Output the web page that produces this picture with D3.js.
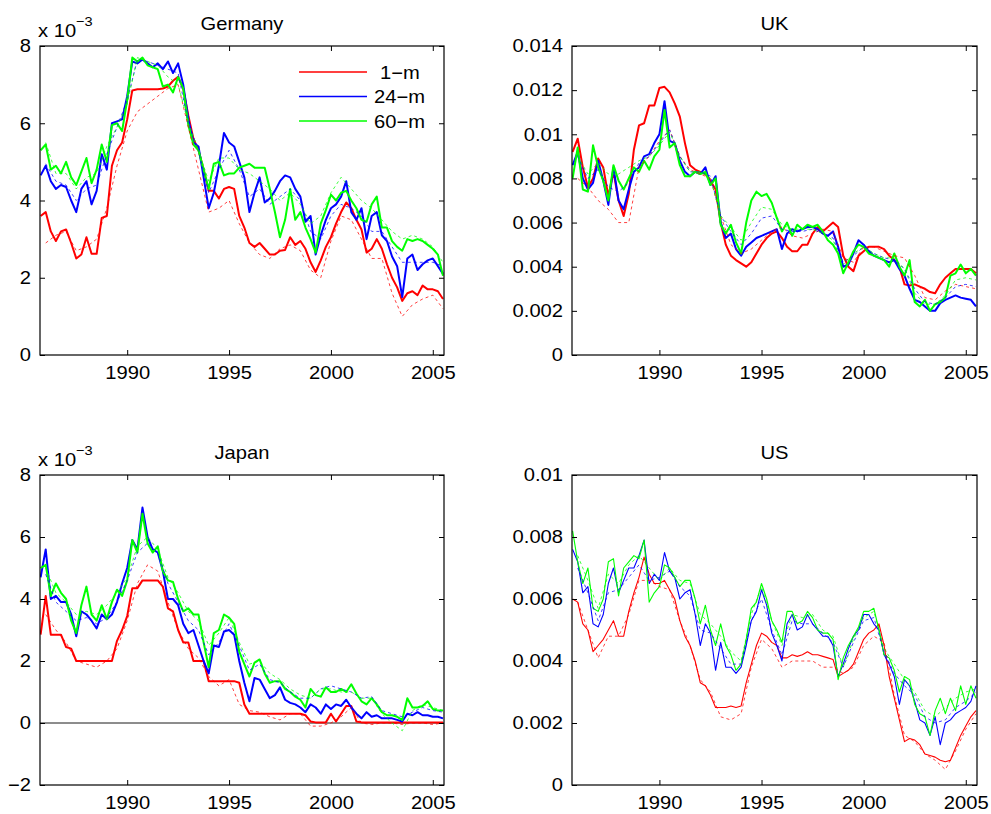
<!DOCTYPE html>
<html>
<head>
<meta charset="utf-8">
<script src="https://cdn.jsdelivr.net/npm/d3@7"></script>
<style>
  body { margin: 0; background: #fff; }
  svg { display: block; }
  text { font-family: "Liberation Sans", Arial, Helvetica, sans-serif; fill: #000; }
</style>
</head>
<body>
<svg id="chart" width="991" height="814"></svg>
<script>
// Quarterly observation dates for the observed yields, half-yearly dates for the fitted ones
const quarters = d3.range(80).map(i => 1985.75 + 0.25 * i);
const halfYears = d3.range(40).map(i => 1986 + 0.5 * i);

const maturities = ["1\u2212m", "24\u2212m", "60\u2212m"];
const colors = ["#ff0000", "#0000ff", "#00ff00"];
const xTicks = [1990, 1995, 2000, 2005];

// ---- Germany (x 10^-3) ----
const germany1m = [3.6,
  3.7, 3.2, 2.95, 3.2,   3.25, 2.9, 2.5, 2.6,   3.05, 2.62, 2.62, 3.55,  3.6, 4.9, 5.3, 5.5,
  6.1, 6.85, 6.88, 6.88, 6.88, 6.88, 6.88, 6.9, 6.95, 7.1, 7.2, 6.9,   6.2, 5.6, 5.3, 4.8,
  4.25, 4.25, 4.05, 4.3, 4.35, 4.3, 3.6, 3.3,   2.9, 2.8, 2.9, 2.75,   2.6, 2.6, 2.7, 2.72,
  3.05, 2.85, 2.95, 2.75, 2.4, 2.15, 2.45, 2.8, 3.05, 3.4, 3.7, 3.95,  3.8, 3.5, 3.25, 2.65,
  2.75, 3.0, 2.75, 2.35, 2.0, 1.75, 1.4, 1.6,   1.65, 1.55, 1.8, 1.7,  1.7, 1.65, 1.45];
const germany24m = [4.65,
  4.9, 4.5, 4.3, 4.4,    4.35, 4.0, 3.7, 4.3,   4.5, 3.9, 4.25, 5.2,   4.8, 6.0, 6.05, 6.1,
  6.7, 7.6, 7.55, 7.65,  7.55, 7.45, 7.55, 7.4, 7.6, 7.3, 7.55, 7.0,  6.1, 5.5, 5.4, 4.6,
  3.8, 4.2, 4.9, 5.75,   5.5, 5.4, 5.0, 4.6,    3.7, 4.2, 4.6, 3.95,   4.05, 4.25, 4.5, 4.65,
  4.6, 4.3, 4.1, 3.45,   3.6, 2.6, 3.1, 3.5,    3.8, 3.9, 4.1, 4.5,    3.7, 3.5, 3.8, 3.0,
  3.6, 3.7, 3.1, 2.95,   2.55, 2.3, 1.5, 2.5,   2.6, 2.2, 2.35, 2.45,  2.5, 2.3, 2.1];
const germany60m = [5.3,
  5.45, 4.8, 4.9, 4.7,   5.0, 4.6, 4.4, 4.75,   5.1, 4.45, 4.8, 5.45,  5.0, 5.95, 6.0, 5.8,
  6.6, 7.7, 7.6, 7.7,    7.5, 7.45, 7.4, 6.95,  7.0, 6.8, 7.2, 6.9,    5.95, 5.45, 5.3, 4.8,
  4.3, 4.95, 5.0, 4.65,  4.7, 4.7, 4.85, 4.9,   4.95, 4.85, 4.85, 4.85, 4.3, 3.7, 3.05, 3.5,
  4.3, 3.5, 3.7, 3.3,    3.0, 2.65, 3.4, 3.75,  4.15, 4.0, 4.2, 4.25,  4.0, 3.8, 3.5, 3.45,
  3.9, 4.1, 3.3, 3.3,    2.95, 2.8, 2.7, 3.0,   2.95, 3.0, 2.95, 2.85, 2.75, 2.6, 2.05];
const germanyFit1m = [2.9, 3.1, 3.2, 2.7, 2.8, 3.0, 3.8, 4.9, 5.8, 6.3, 6.5, 6.7, 6.9, 7.0,
  5.9, 4.8, 3.7, 3.8, 4.0, 3.4, 2.9, 2.6, 2.5, 2.75, 2.85, 2.7, 2.2, 2.0, 2.95, 3.6,
  3.5, 3.0, 2.5, 2.5, 1.6, 1.0, 1.3, 1.45, 1.55, 1.2];
const germanyFit24m = [4.95, 4.5, 4.4, 4.0, 4.3, 4.4, 5.2, 5.9, 6.6, 7.65, 7.6, 7.5, 7.4, 7.3,
  6.0, 5.3, 4.2, 4.8, 5.3, 4.8, 4.1, 4.3, 3.9, 4.1, 4.3, 4.0, 3.2, 3.0, 3.6, 3.9,
  3.8, 3.6, 3.2, 3.2, 2.8, 2.4, 2.4, 2.4, 2.4, 2.3];
const germanyFit60m = [5.5, 4.7, 4.7, 4.3, 4.6, 4.7, 5.4, 5.9, 6.5, 7.7, 7.6, 7.5, 7.2, 7.0,
  6.0, 5.3, 4.5, 5.1, 5.1, 4.8, 4.7, 4.5, 4.3, 4.0, 4.2, 3.9, 3.4, 3.6, 4.2, 4.6,
  4.3, 4.0, 3.8, 3.5, 3.2, 3.0, 3.1, 3.0, 2.8, 2.4];

// ---- UK (x 10^-3) ----
const uk1m = [9.2,
  9.8, 8.5, 7.6, 8.0,    8.9, 8.5, 7.2, 8.3,    7.0, 6.3, 7.3, 9.3,    10.4, 10.5, 11.3, 11.3,
  12.1, 12.15, 11.9, 11.4, 10.8, 9.6, 8.6, 8.4, 8.3, 8.2, 7.9, 7.5,   6.0, 5.0, 4.5, 4.3,
  4.15, 4.0, 4.2, 4.6,   5.0, 5.3, 5.5, 5.6,    5.3, 4.9, 4.7, 4.7,    5.0, 5.0, 5.5, 5.8,
  5.6, 5.8, 6.0, 5.8,    4.5, 4.0, 3.8, 4.5,    4.7, 4.9, 4.9, 4.9,    4.8, 4.5, 4.3, 4.0,
  3.2, 3.15, 3.2, 3.1,   3.0, 2.85, 2.8, 3.2,   3.5, 3.7, 3.9, 3.9,    3.9, 3.9, 3.7];
const uk24m = [8.6,
  9.2, 8.0, 7.5, 7.8,    8.8, 7.9, 6.8, 8.5,    7.0, 6.6, 7.5, 8.3,    8.5, 9.0, 9.1, 9.6,
  10.0, 11.5, 9.7, 9.6,  8.8, 8.3, 8.1, 8.3,    8.2, 8.5, 7.7, 8.1,    6.0, 5.3, 5.5, 4.8,
  4.5, 4.9, 5.1, 5.3,    5.4, 5.5, 5.6, 5.7,    4.8, 5.5, 5.7, 5.6,    5.7, 5.8, 5.8, 5.7,
  5.5, 5.4, 5.6, 4.9,    4.0, 4.1, 4.6, 5.2,    5.0, 4.7, 4.5, 4.4,    4.3, 4.2, 4.3, 3.9,
  3.6, 3.0, 2.5, 2.4,    2.2, 2.0, 2.0, 2.35,   2.5, 2.6, 2.7, 2.6,    2.55, 2.5, 2.2];
const uk60m = [8.0,
  9.4, 7.5, 7.4, 9.5,    8.5, 7.9, 7.0, 8.6,    7.9, 7.5, 8.0, 8.5,    8.3, 8.8, 8.4, 9.0,
  9.3, 11.1, 9.4, 9.6,   8.6, 8.1, 8.1, 8.3,    8.2, 8.3, 7.7, 8.0,    5.9, 5.5, 5.9, 5.1,
  4.6, 6.0, 7.0, 7.4,    7.2, 7.3, 6.9, 6.2,    5.6, 6.0, 5.4, 5.9,    5.7, 5.9, 5.8, 5.9,
  5.6, 5.2, 5.0, 4.6,    3.7, 4.2, 4.7, 5.0,    4.9, 4.6, 4.5, 4.4,    4.3, 4.0, 4.6, 4.0,
  3.6, 4.3, 2.4, 2.2,    2.5, 2.0, 2.3, 2.4,    2.6, 3.6, 3.7, 4.1,    3.7, 3.9, 3.6];
const ukFit1m = [8.0, 7.6, 7.0, 6.6, 6.0, 6.0, 8.5, 9.0, 9.7, 10.2, 9.0, 8.4, 8.2, 8.0,
  6.3, 5.0, 4.6, 4.8, 5.2, 5.6, 5.8, 5.4, 5.3, 5.5, 5.7, 5.6, 4.4, 4.2, 4.9, 4.9,
  4.7, 4.5, 4.4, 3.6, 2.6, 2.5, 2.9, 3.2, 3.1, 3.0];
const ukFit24m = [9.0, 8.0, 8.4, 7.6, 7.4, 7.8, 8.7, 9.0, 9.6, 10.2, 9.0, 8.3, 8.3, 8.1,
  6.3, 5.6, 5.0, 5.5, 6.2, 6.3, 5.7, 5.6, 5.6, 5.7, 5.5, 5.3, 4.2, 4.5, 4.9, 4.6,
  4.4, 4.3, 3.9, 3.0, 2.4, 2.3, 2.6, 3.1, 3.2, 3.1];
const ukFit60m = [9.0, 8.2, 8.7, 8.2, 8.2, 8.5, 8.8, 9.0, 9.5, 10.1, 9.0, 8.3, 8.3, 8.0,
  6.3, 5.8, 5.2, 6.0, 6.7, 6.6, 5.9, 5.7, 5.7, 5.7, 5.5, 5.2, 4.1, 4.6, 4.9, 4.6,
  4.4, 4.4, 3.9, 2.8, 2.3, 2.3, 2.7, 3.4, 3.5, 3.4];

// ---- Japan (x 10^-3) ----
const japan1m = [2.85,
  4.1, 2.85, 2.85, 2.85, 2.45, 2.4, 2.0, 2.0,   2.0, 2.0, 2.0, 2.0,    2.0, 2.0, 2.65, 3.0,
  3.45, 4.35, 4.35, 4.6, 4.6, 4.6, 4.6, 4.4,    3.7, 3.6, 3.0, 2.6,    2.6, 2.0, 2.0, 2.0,
  1.35, 1.35, 1.35, 1.35, 1.35, 1.35, 1.3, 0.6, 0.3, 0.3, 0.3, 0.3,    0.3, 0.3, 0.3, 0.3,
  0.3, 0.3, 0.3, 0.25,   0.05, 0.02, 0.02, 0.02, 0.3, 0.05, 0.3, 0.55, 0.55, 0.05, 0.02, 0.02,
  0.02, 0.02, 0.02, 0.02, 0.02, 0.02, 0.02, 0.02, 0.02, 0.02, 0.02, 0.02, 0.02, 0.02, 0.02];
const japan24m = [4.7,
  5.6, 4.0, 4.1, 3.9,    3.9, 3.5, 2.8, 3.6,    3.5, 3.3, 3.05, 3.5,   3.35, 3.5, 3.9, 4.5,
  5.0, 5.9, 5.6, 6.95,   6.0, 5.6, 5.5, 4.9,    4.0, 4.0, 3.8, 3.2,    2.9, 3.0, 2.5, 2.0,
  1.6, 2.5, 2.45, 2.95,  3.0, 2.85, 2.0, 1.3,   0.7, 1.45, 1.4, 1.1,   0.8, 0.9, 1.15, 0.75,
  0.65, 0.6, 0.5, 0.35,  0.6, 0.5, 0.3, 0.6,    0.45, 0.6, 0.55, 0.75, 0.5, 0.3, 0.15, 0.35,
  0.2, 0.25, 0.15, 0.15, 0.15, 0.1, 0.05, 0.3,  0.25, 0.35, 0.25, 0.25, 0.2, 0.2, 0.15];
const japan60m = [5.0,
  5.1, 4.1, 4.5, 4.2,    4.0, 3.3, 2.9, 3.8,    4.4, 3.5, 3.3, 3.8,    3.35, 3.9, 4.3, 4.1,
  4.6, 5.9, 5.5, 6.75,   5.8, 5.5, 5.7, 4.9,    4.6, 4.55, 4.0, 3.6,   3.7, 3.5, 3.5, 2.6,
  1.8, 2.9, 3.0, 3.5,    3.4, 3.2, 2.3, 1.9,    1.5, 1.95, 2.05, 1.6,  1.3, 1.35, 1.35, 1.1,
  1.0, 0.85, 0.75, 0.5,  1.1, 0.9, 0.85, 1.15,  1.0, 1.0, 1.1, 1.0,    1.25, 0.95, 0.7, 0.6,
  0.8, 0.6, 0.35, 0.25,  0.25, 0.2, 0.1, 0.8,   0.5, 0.5, 0.55, 0.7,   0.45, 0.4, 0.4];
const japanFit1m = [3.5, 3.0, 2.6, 2.0, 1.9, 1.8, 2.0, 2.4, 3.3, 4.5, 5.1, 4.9, 3.9, 3.0,
  2.4, 2.1, 1.5, 1.2, 1.4, 0.6, 0.4, 0.35, 0.2, 0.1, 0.3, 0.3, -0.1, -0.1, 0.0, 0.2,
  0.5, 0.0, -0.05, 0.0, 0.0, -0.05, 0.0, 0.0, -0.05, 0.0];
const japanFit24m = [4.8, 3.9, 3.6, 3.3, 3.4, 3.2, 3.4, 3.9, 4.6, 5.5, 5.8, 5.5, 4.5, 3.9,
  3.3, 3.0, 2.2, 2.6, 3.2, 2.5, 1.7, 1.9, 1.4, 1.3, 1.0, 0.8, 0.8, 1.1, 1.2, 1.1,
  1.0, 0.8, 0.85, 0.4, 0.3, 0.2, 0.35, 0.5, 0.4, 0.35];
const japanFit60m = [5.0, 4.2, 3.9, 3.5, 3.6, 3.5, 3.8, 4.2, 4.7, 5.7, 6.0, 5.6, 4.7, 4.2,
  3.6, 3.3, 2.5, 2.9, 3.4, 2.6, 1.9, 2.0, 1.6, 1.4, 1.1, 0.9, 0.8, 1.1, 1.1, 1.0,
  1.0, 0.8, 0.8, 0.3, 0.0, -0.25, 0.4, 0.6, 0.5, 0.4];

// ---- US (x 10^-3) ----
const us1m = [6.0,
  5.9, 5.2, 5.0, 4.3,    4.5, 4.7, 5.0, 5.3,    4.8, 4.8, 5.6, 6.2,    6.7, 7.35, 6.8, 6.5,
  6.5, 6.6, 6.3, 6.0,    5.3, 4.8, 4.5, 4.0,    3.3, 3.2, 2.9, 2.5,    2.5, 2.5, 2.55, 2.5,
  2.55, 3.3, 3.9, 4.5,   4.9, 4.8, 4.6, 4.5,    4.1, 4.1, 4.2, 4.15,   4.2, 4.3, 4.2, 4.2,
  4.15, 4.1, 4.05, 3.5,  3.6, 3.7, 3.9, 4.3,    4.7, 4.9, 5.0, 5.2,    4.5, 3.5, 2.8, 2.1,
  1.4, 1.5, 1.45, 1.3,   1.0, 0.95, 0.9, 0.8,   0.75, 0.8, 1.2, 1.6,   1.9, 2.2, 2.4];
const us24m = [7.6,
  7.2, 6.2, 6.4, 5.2,    5.1, 5.5, 6.5, 7.0,    6.2, 6.6, 7.0, 7.0,    7.4, 7.9, 6.5, 6.8,
  6.6, 7.5, 6.9, 6.7,    6.0, 6.2, 6.3, 5.5,    4.5, 5.2, 4.9, 3.7,    4.6, 3.8, 3.8, 3.6,
  3.8, 4.5, 5.3, 5.6,    6.3, 5.8, 4.9, 4.5,    4.0, 5.2, 5.5, 5.0,    5.1, 5.5, 5.2, 5.0,
  4.8, 4.8, 4.5, 3.5,    3.9, 4.4, 4.8, 5.0,    5.5, 5.5, 5.2, 5.0,    4.2, 3.9, 3.5, 2.6,
  3.4, 3.2, 2.7, 2.1,    2.0, 1.6, 2.2, 1.3,    2.0, 2.1, 2.3, 2.4,    2.5, 2.7, 3.2];
const us60m = [8.2,
  7.2, 6.5, 7.0, 5.7,    5.6, 6.0, 7.2, 7.3,    6.1, 7.0, 7.2, 7.4,    7.3, 7.9, 5.9, 6.2,
  6.4, 7.1, 7.0, 6.7,    6.4, 6.6, 6.6, 6.0,    5.2, 5.8, 5.0, 4.5,    5.2, 4.5, 4.2, 3.7,
  3.9, 4.7, 5.7, 5.9,    6.5, 6.0, 5.3, 5.0,    4.6, 5.6, 5.6, 5.2,    5.3, 5.6, 5.4, 5.0,
  4.9, 4.9, 4.7, 3.4,    4.1, 4.5, 4.8, 5.1,    5.6, 5.6, 5.7, 5.0,    4.2, 4.1, 3.7, 3.0,
  3.5, 3.4, 2.6, 2.3,    2.2, 1.6, 2.4, 2.8,    2.3, 2.8, 2.4, 3.2,    2.6, 3.2, 2.8];
const usFit1m = [5.9, 5.0, 4.1, 4.8, 4.8, 5.5, 6.6, 6.6, 6.4, 6.3, 5.3, 4.5, 3.4, 3.0,
  2.2, 2.1, 2.3, 3.8, 4.7, 4.4, 3.8, 4.0, 4.0, 4.0, 3.8, 3.8, 3.6, 3.8, 4.5, 4.8,
  4.6, 2.9, 1.6, 1.4, 1.0, 0.8, 0.5, 1.1, 1.8, 2.3];
const usFit24m = [7.0, 6.2, 5.3, 6.2, 6.3, 6.7, 7.1, 6.6, 6.7, 6.9, 6.4, 6.1, 5.0, 4.9,
  4.4, 3.9, 3.9, 5.3, 6.0, 5.0, 4.2, 5.3, 5.2, 5.2, 4.9, 4.6, 3.8, 4.6, 5.3, 5.4,
  4.3, 3.6, 3.2, 2.9, 2.2, 2.0, 2.1, 2.5, 2.7, 3.0];
const usFit60m = [7.4, 6.6, 5.7, 6.8, 6.5, 7.1, 7.4, 7.0, 6.6, 7.0, 6.6, 6.5, 5.5, 5.2,
  4.8, 4.3, 4.0, 5.5, 6.4, 5.3, 4.5, 5.5, 5.4, 5.5, 5.0, 4.8, 3.8, 4.7, 5.4, 5.6,
  4.4, 3.9, 3.4, 3.0, 2.4, 2.2, 2.5, 2.8, 3.0, 3.1];

// Tick label formats
const plainFmt = d => d < 0 ? "\u2212" + (-d) : String(d);
const scaledFmt = d => d === 0 ? "0" : String(+(d / 1000).toFixed(3));

const panels = [
  { title: "Germany", box: [40, 46, 444, 355], yDomain: [0, 8], yTicks: [0, 2, 4, 6, 8],
    fmt: plainFmt, exponent: true, stroke: 2,
    observed: [germany1m, germany24m, germany60m], fitted: [germanyFit1m, germanyFit24m, germanyFit60m], legend: true },
  { title: "UK", box: [572, 46, 977, 355], yDomain: [0, 14], yTicks: [0, 2, 4, 6, 8, 10, 12, 14],
    fmt: scaledFmt, exponent: false, stroke: 2,
    observed: [uk1m, uk24m, uk60m], fitted: [ukFit1m, ukFit24m, ukFit60m] },
  { title: "Japan", box: [40, 475, 444, 785], yDomain: [-2, 8], yTicks: [-2, 0, 2, 4, 6, 8],
    fmt: plainFmt, exponent: true, stroke: 2, zeroLine: true,
    observed: [japan1m, japan24m, japan60m], fitted: [japanFit1m, japanFit24m, japanFit60m] },
  { title: "US", box: [572, 475, 977, 785], yDomain: [0, 10], yTicks: [0, 2, 4, 6, 8, 10],
    fmt: scaledFmt, exponent: false, stroke: 1.1,
    observed: [us1m, us24m, us60m], fitted: [usFit1m, usFit24m, usFit60m] }
];

const svg = d3.select("#chart");
const X_STRETCH = 1.12;
const FONT = 18;

function styleText(sel) {
  sel.attr("font-size", FONT)
     .attr("font-family", "'Liberation Sans', Arial, Helvetica, sans-serif")
     .attr("fill", "#000");
}

panels.forEach((p, pi) => {
  const [x0, y0, x1, y1] = p.box;
  const w = x1 - x0, h = y1 - y0;
  const g = svg.append("g").attr("transform", `translate(${x0},${y0})`);

  const x = d3.scaleLinear().domain([1985.72, 2005.55]).range([0, w]);
  const y = d3.scaleLinear().domain(p.yDomain).range([h, 0]);

  const clipId = "clip" + pi;
  g.append("clipPath").attr("id", clipId)
    .append("rect").attr("width", w).attr("height", h);
  const plot = g.append("g").attr("clip-path", `url(#${clipId})`);

  if (p.zeroLine) {
    plot.append("line")
      .attr("x1", 0).attr("x2", w)
      .attr("y1", y(0)).attr("y2", y(0))
      .attr("stroke", "#000").attr("stroke-width", 0.9);
  }

  const obsLine = d3.line().x((d, i) => x(quarters[i])).y(d => y(d));
  const fitLine = d3.line().x((d, i) => x(halfYears[i])).y(d => y(d));

  p.observed.forEach((series, k) => {
    plot.append("path")
      .datum(series)
      .attr("d", obsLine)
      .attr("fill", "none")
      .attr("stroke", colors[k])
      .attr("stroke-width", p.stroke)
      .attr("stroke-linejoin", "round");
  });
  p.fitted.forEach((series, k) => {
    plot.append("path")
      .datum(series)
      .attr("d", fitLine)
      .attr("fill", "none")
      .attr("stroke", colors[k])
      .attr("stroke-opacity", 0.75)
      .attr("stroke-width", 1)
      .attr("stroke-dasharray", "3,3");
  });

  // Axes with inward ticks on all four sides
  const bottom = g.append("g").attr("transform", `translate(0,${h})`)
    .call(d3.axisBottom(x).tickValues(xTicks).tickFormat(d3.format("d"))
      .tickSizeInner(-5).tickSizeOuter(0).tickPadding(11));
  const top = g.append("g")
    .call(d3.axisTop(x).tickValues(xTicks).tickFormat("").tickSizeInner(-5).tickSizeOuter(0));
  const left = g.append("g")
    .call(d3.axisLeft(y).tickValues(p.yTicks).tickFormat(p.fmt)
      .tickSizeInner(-5).tickSizeOuter(0).tickPadding(8));
  const right = g.append("g").attr("transform", `translate(${w},0)`)
    .call(d3.axisRight(y).tickValues(p.yTicks).tickFormat("").tickSizeInner(-5).tickSizeOuter(0));

  [bottom, top, left, right].forEach(a => {
    a.select(".domain").remove();
    a.selectAll(".tick line").attr("stroke", "#000").attr("stroke-width", 1);
    a.selectAll(".tick text").call(styleText).attr("transform", `scale(${X_STRETCH},1)`);
  });

  g.append("rect").attr("width", w).attr("height", h)
    .attr("fill", "none").attr("stroke", "#000").attr("stroke-width", 1.2);

  // Panel title
  g.append("text")
    .attr("transform", `translate(${w / 2},-16) scale(${X_STRETCH},1)`)
    .attr("text-anchor", "middle")
    .call(styleText)
    .text(p.title);

  // Axis multiplier
  if (p.exponent) {
    const t = g.append("text")
      .attr("transform", `translate(-2,-9) scale(${X_STRETCH},1)`)
      .call(styleText);
    t.append("tspan").text("x 10");
    t.append("tspan").attr("font-size", 13).attr("dy", -11).text("\u22123");
  }

  if (p.legend) {
    const lg = g.append("g").attr("transform", "translate(259,26)");
    maturities.forEach((m, k) => {
      const row = lg.append("g").attr("transform", `translate(0,${k * 24.5})`);
      row.append("line").attr("x1", 0).attr("x2", 68)
        .attr("stroke", colors[k]).attr("stroke-width", 1.6);
      row.append("text")
        .attr("transform", `translate(${k === 0 ? 81 : 75},6.5) scale(${X_STRETCH},1)`)
        .call(styleText)
        .text(m);
    });
  }
});
</script>
</body>
</html>
